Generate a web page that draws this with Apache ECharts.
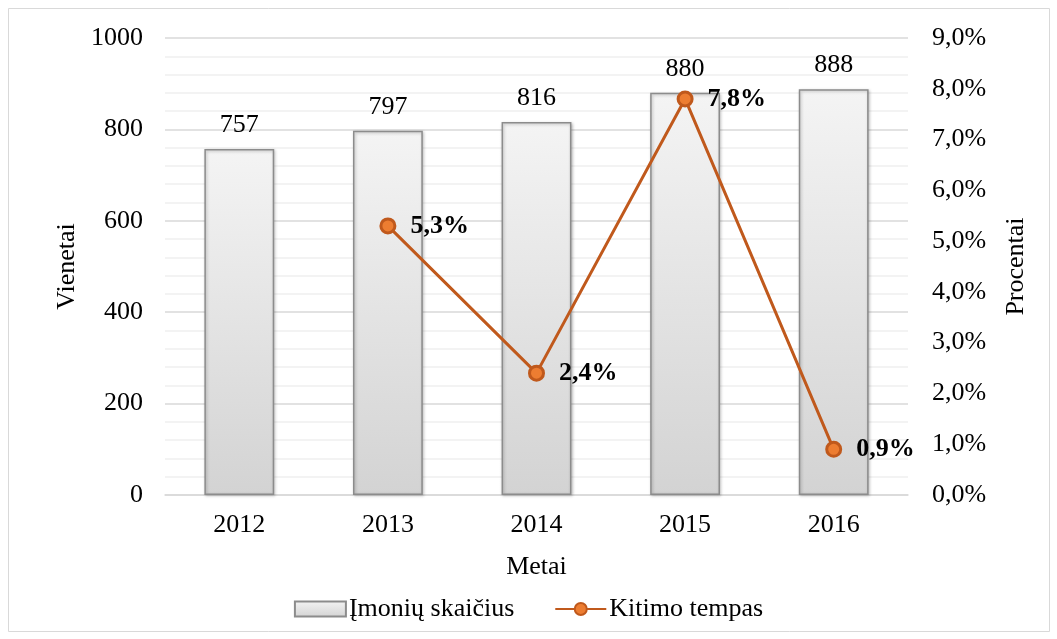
<!DOCTYPE html>
<html>
<head>
<meta charset="utf-8">
<script src="https://cdn.jsdelivr.net/npm/echarts@6/dist/echarts.min.js"></script>
<style>html,body{margin:0;padding:0;background:#fff}#c{width:1057px;height:639px}</style>
</head>
<body>
<div id="c"></div>
<script>
const categories = ['2012', '2013', '2014', '2015', '2016'];
const companyCounts = [757, 797, 816, 880, 888];
const changeRates = [null, 5.3, 2.4, 7.8, 0.9];
const barName = 'Įmonių skaičius';
const lineName = 'Kitimo tempas';

const FONT = '"Liberation Serif", "Times New Roman", serif';
const FS = 26;
const chart = echarts.init(document.getElementById('c'));
const pct = v => v.toFixed(1).replace('.', ',') + '%';

chart.setOption({
  animation: false,
  backgroundColor: '#fff',
  textStyle: { fontFamily: FONT, color: '#000' },
  graphic: [{
    type: 'rect', shape: { x: 8.5, y: 8.5, width: 1041, height: 623 },
    style: { fill: 'none', stroke: '#d9d9d9', lineWidth: 1 }, silent: true
  }],
  grid: { left: 165, right: 149, top: 38, bottom: 144 },
  legend: {
    top: 591, left: 'center', itemGap: 40, itemWidth: 51, itemHeight: 15,
    textStyle: { fontFamily: FONT, fontSize: FS, color: '#000', padding: [0, 0, 0, -2] },
    data: [
      { name: barName, icon: 'rect' },
      { name: lineName }
    ]
  },
  xAxis: {
    type: 'category', data: categories,
    name: 'Metai', nameLocation: 'middle', nameGap: 59,
    nameTextStyle: { fontFamily: FONT, fontSize: FS, color: '#000' },
    axisLine: { show: true, lineStyle: { color: '#d9d9d9', width: 1.5 } },
    axisTick: { show: false },
    axisLabel: { fontFamily: FONT, fontSize: FS, color: '#000', margin: 17 }
  },
  yAxis: [{
    type: 'value', min: 0, max: 1000, interval: 200,
    name: 'Vienetai', nameLocation: 'middle', nameGap: 84, nameRotate: 90,
    nameTextStyle: { fontFamily: FONT, fontSize: FS, color: '#000' },
    axisLine: { show: false }, axisTick: { show: false },
    axisLabel: { fontFamily: FONT, fontSize: FS, color: '#000', margin: 22, formatter: v => String(v) },
    splitLine: { show: true, lineStyle: { color: '#d9d9d9', width: 1.5 } },
    minorTick: { show: false, splitNumber: 5 },
    minorSplitLine: { show: true, lineStyle: { color: '#efefef', width: 1.5 } }
  }, {
    type: 'value', min: 0, max: 9, interval: 1, position: 'right',
    name: 'Procentai', nameLocation: 'middle', nameGap: 95, nameRotate: 90,
    nameTextStyle: { fontFamily: FONT, fontSize: FS, color: '#000' },
    axisLine: { show: false }, axisTick: { show: false },
    axisLabel: { fontFamily: FONT, fontSize: FS, color: '#000', margin: 24, formatter: v => pct(v) },
    splitLine: { show: false }
  }],
  series: [{
    name: barName, type: 'bar', data: companyCounts, yAxisIndex: 0, barWidth: '47%',
    itemStyle: {
      color: new echarts.graphic.LinearGradient(0, 0, 0, 1, [
        { offset: 0, color: '#f4f4f4' }, { offset: 1, color: '#d3d3d3' }
      ]),
      borderColor: '#8c8c8c', borderWidth: 1.5,
      shadowColor: 'rgba(0,0,0,0.25)', shadowBlur: 3, shadowOffsetX: 1, shadowOffsetY: 1
    },
    label: { show: true, position: 'top', distance: 11, fontFamily: FONT, fontSize: FS, color: '#000' }
  }, {
    name: lineName, type: 'line', data: changeRates, yAxisIndex: 1, connectNulls: false,
    lineStyle: { color: '#c0591c', width: 3 },
    symbol: 'circle', symbolSize: 14,
    itemStyle: { color: '#ed7d31', borderColor: '#c0591c', borderWidth: 3 },
    label: {
      show: true, position: 'right', distance: 14, fontFamily: FONT, fontSize: FS,
      fontWeight: 'bold', color: '#000', formatter: p => pct(p.value)
    },
    z: 5
  }]
});
</script>
</body>
</html>
